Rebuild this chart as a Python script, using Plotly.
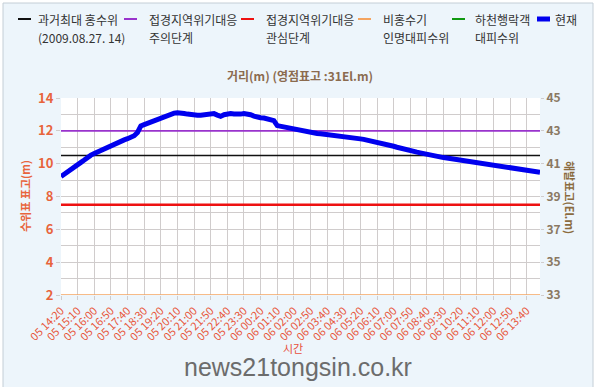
import plotly.graph_objects as go
import pandas as pd

# ---- data ----
times = pd.date_range("2024-05-05 14:20", periods=145, freq="10min")
categories = [t.strftime("%d %H:%M") for t in times]

current_level = [
    9.22, 9.38, 9.52, 9.66, 9.80, 9.93, 10.08, 10.22, 10.40, 10.52,
    10.62, 10.72, 10.82, 10.90, 10.98, 11.08, 11.18, 11.30, 11.38, 11.45,
    11.52, 11.60, 11.70, 11.90, 12.30, 12.38, 12.46, 12.55, 12.64, 12.72,
    12.80, 12.88, 12.95, 13.05, 13.08, 13.10, 13.10, 13.06, 13.02, 12.98,
    12.96, 12.95, 12.95, 12.98, 13.00, 13.02, 13.05, 12.96, 12.88, 12.98,
    13.05, 13.05, 13.02, 13.00, 13.02, 13.06, 13.05, 12.98, 12.90, 12.82,
    12.80, 12.78, 12.74, 12.70, 12.62, 12.32, 12.28, 12.22, 12.16, 12.10,
    12.05, 12.01, 11.97, 11.93, 11.90, 11.88, 11.86, 11.84, 11.82, 11.80,
    11.78, 11.74, 11.71, 11.69, 11.67, 11.65, 11.63, 11.60, 11.57, 11.54,
    11.51, 11.48, 11.44, 11.40, 11.36, 11.32, 11.27, 11.21, 11.16, 11.11,
    11.06, 11.00, 10.94, 10.89, 10.83, 10.78, 10.74, 10.70, 10.66, 10.61,
    10.57, 10.53, 10.49, 10.45, 10.41, 10.37, 10.34, 10.31, 10.29, 10.27,
    10.25, 10.23, 10.20, 10.17, 10.14, 10.11, 10.08, 10.05, 10.01, 9.98,
    9.95, 9.91, 9.88, 9.84, 9.80, 9.77, 9.74, 9.70, 9.67, 9.63,
    9.60, 9.57, 9.54, 9.51, 9.48,
]

past_max_flood = 10.5      # 과거최대 홍수위
alert_caution = 12.0       # 접경지역위기대응 주의단계
alert_interest = 7.5       # 접경지역위기대응 관심단계
non_flood_evac = 2.0       # 비홍수기 인명대피수위
leisure_evac = 1.0         # 하천행락객 대피수위 (below visible range)
datum = 31                 # 영점표고

series_names = ["과거최대 홍수위", "접경지역위기대응 주의단계", "접경지역위기대응 관심단계",
                "비홍수기 인명대피수위", "하천행락객 대피수위", "현재"]
legend_lines = [("과거최대 홍수위", "(2009.08.27. 14)"), ("접경지역위기대응", "주의단계"),
                ("접경지역위기대응", "관심단계"), ("비홍수기", "인명대피수위"),
                ("하천행락객", "대피수위"), ("현재", "")]

left_ticks = [2, 4, 6, 8, 10, 12, 14]
right_ticks = [33, 35, 37, 39, 41, 43, 45]

# ---- geometry ----
W, H = 600, 387
L, R, T, B = 61, 60, 98, 92
PW, PH = W - L - R, H - T - B
def px(x):
    return (x - L) / PW
def py(y):
    return (H - B - y) / PH

FONT = "Noto Sans CJK KR, Noto Sans, sans-serif"
xs = list(range(len(categories)))
n = len(xs)

fig = go.Figure()
levels = [past_max_flood, alert_caution, alert_interest, non_flood_evac, leisure_evac]
colors = ["#111111", "#9933cc", "#ee1111", "#f4a460", "#119911"]
widths = [1.6, 1.6, 2.4, 1.6, 1.6]
for name, lv, c, w in zip(series_names[:5], levels, colors, widths):
    fig.add_trace(go.Scatter(x=xs, y=[lv] * n, mode="lines", name=name,
                             line=dict(color=c, width=w), hoverinfo="skip"))
fig.add_trace(go.Scatter(x=xs, y=current_level, mode="lines", name=series_names[5],
                         line=dict(color="#0000ee", width=5)))
# invisible trace for right axis
fig.add_trace(go.Scatter(x=[xs[0], xs[-1]], y=[v + datum for v in [current_level[0], current_level[-1]]],
                         yaxis="y2", mode="lines", line=dict(width=0), opacity=0,
                         showlegend=False, hoverinfo="skip"))

tick_idx = list(range(0, n - 1, 5))
grid = "#d0cccc"
fig.update_layout(
    width=W, height=H,
    margin=dict(l=L, r=R, t=T, b=B),
    paper_bgcolor="#edf5fb", plot_bgcolor="#ffffff",
    showlegend=False,
    font=dict(family=FONT),
    xaxis=dict(range=[0, n - 1], tickvals=tick_idx, ticktext=[categories[i] for i in tick_idx],
               tickangle=-45, tickfont=dict(size=11, color="#e8553a"),
               showgrid=True, gridcolor=grid, gridwidth=1, zeroline=False, showline=False,
               ticks="outside", ticklen=4, tickcolor=grid),
    yaxis=dict(range=[2, 14], tickvals=left_ticks, tickfont=dict(size=13, color="#e8643c", weight="bold"),
               showgrid=True, gridcolor=grid, zeroline=False, showline=False,
               ticks="outside", ticklen=4, tickcolor=grid,
               minor=dict(dtick=1, tick0=2, showgrid=True, gridcolor=grid)),
    yaxis2=dict(range=[33, 45], tickvals=right_ticks, overlaying="y", side="right",
                tickfont=dict(size=12, color="#8a7862", weight="bold"),
                showgrid=False, zeroline=False, showline=False,
                ticks="outside", ticklen=3, tickcolor=grid),
)

shapes = []
# white outside the frame
shapes.append(dict(type="rect", xref="paper", yref="paper", x0=px(593), x1=px(601), y0=py(-2), y1=py(390),
                   fillcolor="#ffffff", line=dict(width=0), layer="below"))
shapes.append(dict(type="rect", xref="paper", yref="paper", x0=px(-2), x1=px(601), y0=py(-2), y1=py(3),
                   fillcolor="#ffffff", line=dict(width=0), layer="below"))
shapes.append(dict(type="rect", xref="paper", yref="paper", x0=px(-2), x1=px(3), y0=py(-2), y1=py(390),
                   fillcolor="#ffffff", line=dict(width=0), layer="below"))
shapes.append(dict(type="rect", xref="paper", yref="paper", x0=px(3), x1=px(593), y0=py(3), y1=py(390),
                   fillcolor="rgba(0,0,0,0)", line=dict(color="#c4ced6", width=1), layer="below"))

annotations = []
# legend (manual)
sym_x = [18, 124, 241, 358, 452, 537]
txt_x = [36, 147, 264, 381, 473, 553]
sym_colors = colors + ["#0000ee"]
for i, ((l1, l2), sx, tx) in enumerate(zip(legend_lines, sym_x, txt_x)):
    lw = 5 if i == 5 else 2
    shapes.append(dict(type="line", xref="paper", yref="paper", x0=px(sx), x1=px(sx + 13),
                       y0=py(19), y1=py(19), line=dict(color=sym_colors[i], width=lw)))
    annotations.append(dict(x=px(tx), y=py(19), xref="paper", yref="paper", text=l1, showarrow=False,
                            xanchor="left", yanchor="middle", font=dict(size=12, color="#333333")))
    if l2:
        annotations.append(dict(x=px(tx), y=py(37), xref="paper", yref="paper", text=l2, showarrow=False,
                                xanchor="left", yanchor="middle", font=dict(size=12, color="#333333")))

annotations.append(dict(x=px(300), y=py(75), xref="paper", yref="paper", text="<b>거리(m) (영점표고 :31El.m)</b>",
                        showarrow=False, xanchor="center", yanchor="middle",
                        font=dict(size=12, color="#8b6b4e")))
annotations.append(dict(x=px(25), y=py(196), xref="paper", yref="paper", text="<b>수위표 표고(m)</b>",
                        showarrow=False, textangle=-90, xanchor="center", yanchor="middle",
                        font=dict(size=11, color="#e8643c")))
annotations.append(dict(x=px(570), y=py(197), xref="paper", yref="paper", text="<b>해발표고(El.m)</b>",
                        showarrow=False, textangle=90, xanchor="center", yanchor="middle",
                        font=dict(size=11, color="#8b6b3e")))
annotations.append(dict(x=px(293), y=py(348), xref="paper", yref="paper", text="시간",
                        showarrow=False, xanchor="center", yanchor="middle",
                        font=dict(size=11, color="#e8503c")))
# watermark
WM_FONT = "Liberation Sans, Arial, sans-serif"
annotations.append(dict(x=px(297.5), y=py(367), xref="paper", yref="paper", text="news21tongsin.co.kr",
                        showarrow=False, xanchor="center", yanchor="middle",
                        font=dict(size=25, color="#6c6c6c", family=WM_FONT)))

fig.update_layout(shapes=shapes, annotations=annotations)
fig.write_html("out.html", config={"displayModeBar": False},
               post_script="document.body.style.margin='0';document.body.style.overflow='hidden';")
